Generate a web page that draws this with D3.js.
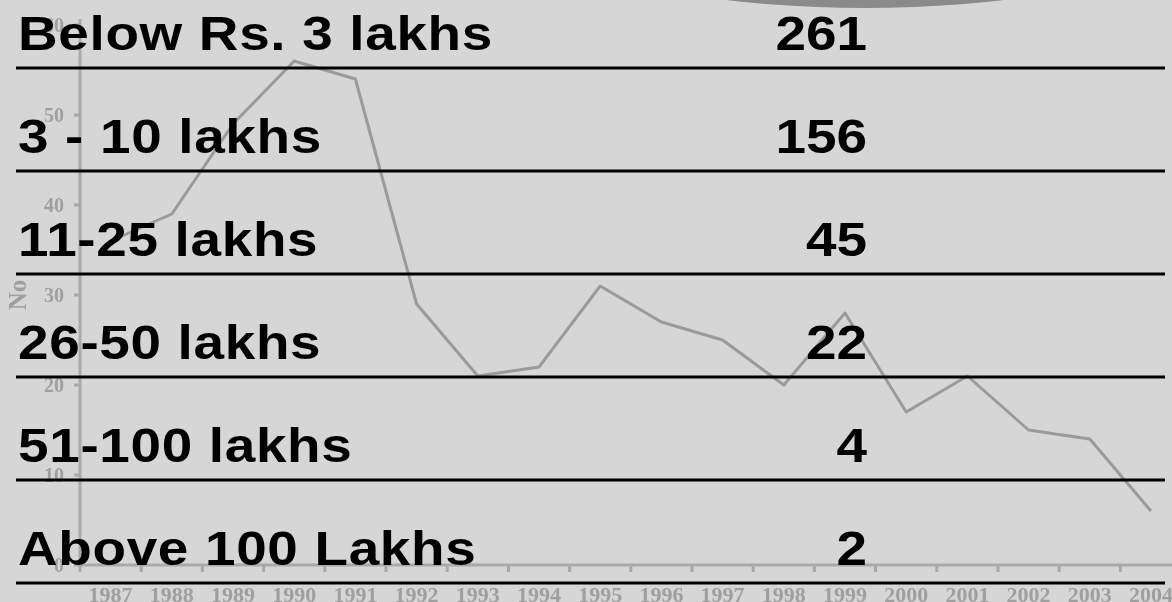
<!DOCTYPE html>
<html>
<head>
<meta charset="utf-8">
<script src="https://cdn.jsdelivr.net/npm/d3@7"></script>
<style>
    html, body { margin: 0; padding: 0; background: #d6d6d6; overflow: hidden; }
    .fond text { font-family: "Liberation Serif", "DejaVu Serif", serif; font-weight: bold; fill: #9f9f9f; }
    .fond .axe { stroke: #a9a9a9; stroke-width: 3; }
    .fond .courbe { fill: none; stroke: #9a9a9a; stroke-width: 3; stroke-linejoin: round; }
    .tableau text { font-family: "Liberation Sans", Arial, sans-serif; font-weight: bold; font-size: 49px; fill: #000; }
    .tableau .libelle { letter-spacing: 0.6px; }
    .tableau line { stroke: #000; stroke-width: 3; }
</style>
</head>
<body>
<div id="graphe"></div>
<script>
/*global d3*/

// courbe en fond
var annees = ["1987", "1988", "1989", "1990", "1991", "1992", "1993", "1994", "1995",
              "1996", "1997", "1998", "1999", "2000", "2001", "2002", "2003", "2004"];
var nombres = [36, 39, 49, 56, 54, 29, 21, 22, 31, 27, 25, 20, 28, 17, 21, 15, 14, 6];
var graduations = [0, 10, 20, 30, 40, 50, 60];

// tableau par dessus
var tranches = ["Below Rs. 3 lakhs", "3 - 10 lakhs", "11-25 lakhs", "26-50 lakhs", "51-100 lakhs", "Above 100 Lakhs"];
var effectifs = ["261", "156", "45", "22", "4", "2"];

(function () {
    "use strict";

    var widthGlobal = 1172,
        heightGlobal = 602,

        x = d3.scaleBand()
        .domain(annees)
        .range([80, 80 + 18 * 61.2]),

        y = d3.scaleLinear()
        .domain([0, 60])
        .range([565, 25]),

        ligne = d3.line()
        .x(function (d, i) { return x(annees[i]) + x.bandwidth() / 2; })
        .y(function (d) { return y(d); }),

        rangs = d3.scaleBand()
        .domain(tranches)
        .range([-35, 583])
        .paddingInner(0),

        svg = d3.select("#graphe").append("svg")
        .attr("width", widthGlobal)
        .attr("height", heightGlobal);

    svg.append("defs").append("filter")
        .attr("id", "flou")
        .append("feGaussianBlur")
        .attr("stdDeviation", 0.6);

    // tache grise en haut (pas tres propre)
    svg.append("ellipse")
        .attr("cx", 865)
        .attr("cy", -40)
        .attr("rx", 250)
        .attr("ry", 48)
        .attr("fill", "#8a8a8a")
        .attr("filter", "url(#flou)");

    var fond = svg.append("g")
        .attr("class", "fond")
        .attr("filter", "url(#flou)");

    fond.append("line")
        .attr("class", "axe")
        .attr("x1", x.range()[0]).attr("x2", x.range()[0])
        .attr("y1", y(60) - 6).attr("y2", y(0));
    fond.append("line")
        .attr("class", "axe")
        .attr("x1", x.range()[0]).attr("x2", widthGlobal)
        .attr("y1", y(0)).attr("y2", y(0));

    fond.selectAll(".ty")
        .data(graduations)
        .enter().append("line")
        .attr("class", "axe ty")
        .attr("x1", x.range()[0] - 6).attr("x2", x.range()[0])
        .attr("y1", function (d) { return y(d); })
        .attr("y2", function (d) { return y(d); });
    fond.selectAll(".ly")
        .data(graduations)
        .enter().append("text")
        .attr("class", "ly")
        .attr("x", 64)
        .attr("y", function (d) { return y(d) + 7; })
        .attr("text-anchor", "end")
        .style("font-size", "20px")
        .text(function (d) { return d; });

    fond.selectAll(".tx")
        .data(annees)
        .enter().append("line")
        .attr("class", "axe tx")
        .attr("x1", function (d) { return x(d); })
        .attr("x2", function (d) { return x(d); })
        .attr("y1", y(0)).attr("y2", y(0) + 7);
    fond.selectAll(".lx")
        .data(annees)
        .enter().append("text")
        .attr("class", "lx")
        .attr("x", function (d) { return x(d) + x.bandwidth() / 2; })
        .attr("y", 602)
        .attr("text-anchor", "middle")
        .style("font-size", "22px")
        .text(function (d) { return d; });

    fond.append("text")
        .attr("transform", "translate(26," + y(30) + ") rotate(-90)")
        .attr("text-anchor", "middle")
        .style("font-size", "25px")
        .text("No");

    fond.append("path")
        .datum(nombres)
        .attr("class", "courbe")
        .attr("d", ligne);

    // le tableau
    var tableau = svg.append("g").attr("class", "tableau");

    tableau.selectAll(".sep")
        .data(tranches)
        .enter().append("line")
        .attr("class", "sep")
        .attr("x1", 16).attr("x2", 1165)
        .attr("y1", function (d) { return rangs(d) + rangs.bandwidth(); })
        .attr("y2", function (d) { return rangs(d) + rangs.bandwidth(); });

    tableau.selectAll(".libelle")
        .data(tranches)
        .enter().append("text")
        .attr("class", "libelle")
        .attr("transform", function (d) {
            return "translate(18," + (rangs(d) + rangs.bandwidth() - 18) + ") scale(1.12,1)";
        })
        .text(function (d) { return d; });

    tableau.selectAll(".valeur")
        .data(tranches)
        .enter().append("text")
        .attr("class", "valeur")
        .attr("transform", function (d) {
            return "translate(867," + (rangs(d) + rangs.bandwidth() - 18) + ") scale(1.12,1)";
        })
        .attr("text-anchor", "end")
        .text(function (d, i) { return effectifs[i]; });
}());
</script>
</body>
</html>
